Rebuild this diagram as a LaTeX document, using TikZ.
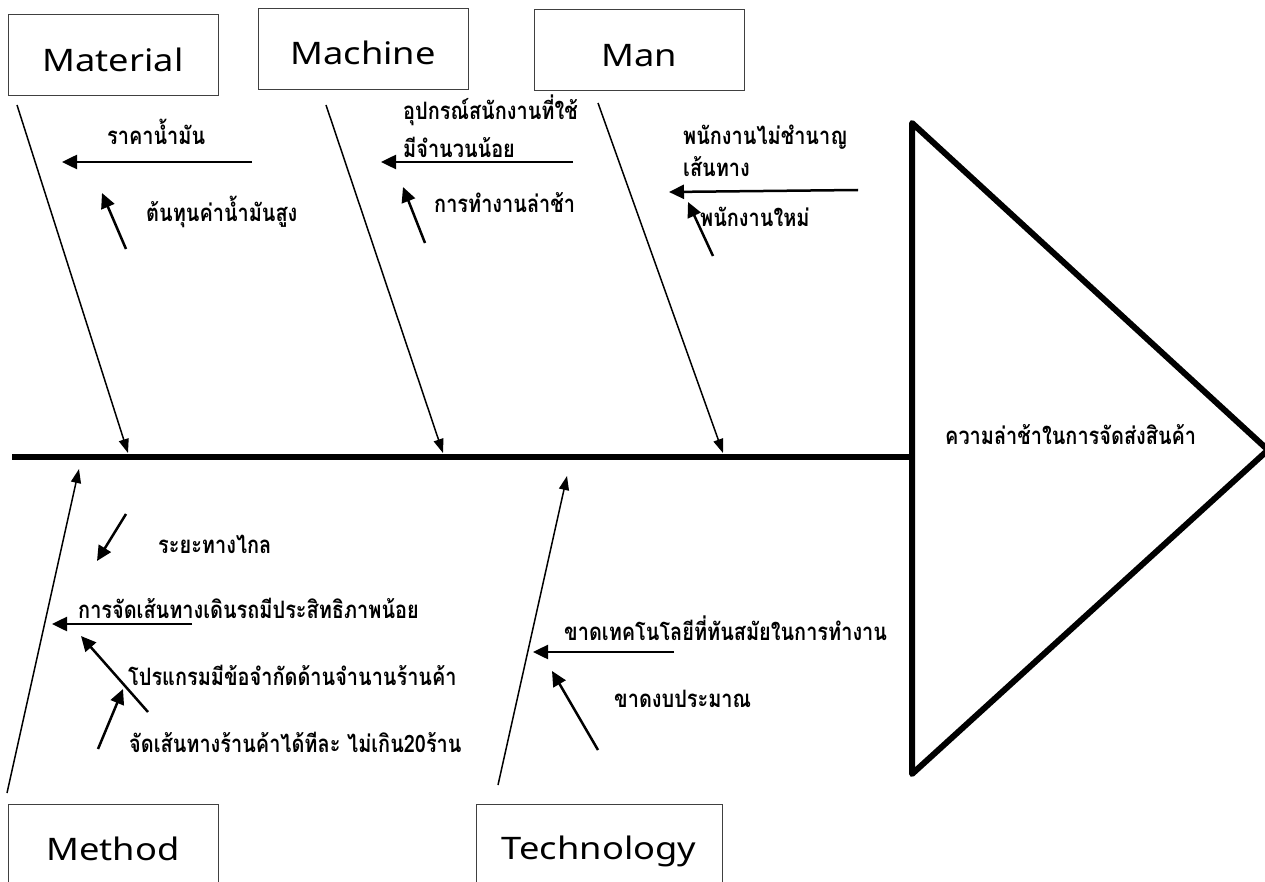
\documentclass[tikz,border=0pt]{standalone}
\usepackage{fontspec}
\setmainfont{Noto Sans}
\newfontfamily\latinwide[FakeStretch=1.17]{Noto Sans}
\newfontfamily\thaifont[Script=Thai, FakeStretch=0.83]{Loma}
\usetikzlibrary{arrows.meta}
\begin{document}
\begin{tikzpicture}[x=1pt,y=-1pt,
  catbox/.style={draw=black!75, line width=1pt, inner sep=0pt, minimum width=210pt, minimum height=81pt},
  cattext/.style={font=\latinwide\fontsize{31}{32}\selectfont, anchor=base, inner sep=0pt},
  bone/.style={line width=1.5pt, -{Triangle[length=14pt,width=10pt]}},
  subarrow/.style={line width=2.5pt, -{Triangle[length=15pt,width=14pt]}},
  lbl/.style={font=\thaifont\bfseries\fontsize{24}{25}\selectfont, anchor=base west, inner sep=0pt},
  efflbl/.style={font=\thaifont\bfseries\fontsize{24}{25}\selectfont, anchor=base west, inner sep=0pt}]
\useasboundingbox (0,0) rectangle (1265,882);
\fill[white] (0,0) rectangle (1265,882);
% category boxes
\node[catbox] (matbox) at (113,55.5) {};
\node[cattext] (mattxt) at (113,72) {Material};
\node[catbox] (macbox) at (363,49.5) {};
\node[cattext] (mactxt) at (363,65) {Machine};
\node[catbox] (manbox) at (639,50.5) {};
\node[cattext] (mantxt) at (639,67) {Man};
\node[catbox, minimum height=100pt] (metbox) at (113,854) {};
\node[cattext] (mettxt) at (113,860) {Method};
\node[catbox, minimum width=246pt, minimum height=100pt] (tecbox) at (599,854) {};
\node[cattext] (tectxt) at (599,859) {Technology};
% spine and head
\coordinate (spL) at (12,457);
\coordinate (spR) at (912,457);
\draw[line width=6pt] (spL) -- (spR);
\coordinate (hTop) at (912,123);
\coordinate (hApex) at (1268,450);
\coordinate (hBot) at (912,774);
\draw[line width=6pt, line join=round, line cap=round] (hTop) -- (hApex) -- (hBot) -- cycle;
\node[efflbl] (effect) at (945,444) {ความล่าช้าในการจัดส่งสินค้า};
% bones
\coordinate (b1s) at (17,105);  \coordinate (b1e) at (128,453);
\coordinate (b2s) at (326,105); \coordinate (b2e) at (443,453);
\coordinate (b3s) at (598,103); \coordinate (b3e) at (723,453);
\coordinate (b4s) at (7,793);   \coordinate (b4e) at (79,469);
\coordinate (b5s) at (498,785); \coordinate (b5e) at (567,476);
\draw[bone] (b1s) -- (b1e);
\draw[bone] (b2s) -- (b2e);
\draw[bone] (b3s) -- (b3e);
\draw[bone] (b4s) -- (b4e);
\draw[bone] (b5s) -- (b5e);
% sub arrows: Material
\coordinate (a1s) at (252,162); \coordinate (a1e) at (62,162);
\coordinate (a2s) at (126,249); \coordinate (a2e) at (102,193);
\draw[subarrow] (a1s) -- (a1e);
\draw[subarrow] (a2s) -- (a2e);
\node[lbl] (l1) at (107,145) {ราคาน้ำมัน};
\node[lbl] (l2) at (146,222) {ต้นทุนค่าน้ำมันสูง};
% Machine
\coordinate (a3s) at (573,162); \coordinate (a3e) at (381,162);
\coordinate (a4s) at (425,243); \coordinate (a4e) at (403,187);
\draw[subarrow] (a3s) -- (a3e);
\draw[subarrow] (a4s) -- (a4e);
\node[lbl] (l3) at (403,120) {อุปกรณ์สนักงานที่ใช้};
\node[lbl] (l4) at (403,158) {มีจำนวนน้อย};
\node[lbl] (l5) at (434,213) {การทำงานล่าช้า};
% Man
\coordinate (a5s) at (858,190); \coordinate (a5e) at (669,192);
\coordinate (a6s) at (713,256); \coordinate (a6e) at (688,202);
\draw[subarrow] (a5s) -- (a5e);
\draw[subarrow] (a6s) -- (a6e);
\node[lbl] (l6) at (683,145) {พนักงานไม่ชำนาญ};
\node[lbl] (l7) at (683,177) {เส้นทาง};
\node[lbl] (l8) at (700,227) {พนักงานใหม่};
% Method
\coordinate (a7s) at (126,514); \coordinate (a7e) at (97,561);
\coordinate (a8s) at (192,624); \coordinate (a8e) at (52,624);
\coordinate (a9s) at (148,712); \coordinate (a9e) at (81,636);
\coordinate (a10s) at (98,749); \coordinate (a10e) at (123,689);
\draw[subarrow] (a7s) -- (a7e);
\draw[subarrow] (a8s) -- (a8e);
\draw[subarrow] (a9s) -- (a9e);
\draw[subarrow] (a10s) -- (a10e);
\node[lbl] (l9) at (158,553) {ระยะทางไกล};
\node[lbl] (l10) at (78,618) {การจัดเส้นทางเดินรถมีประสิทธิภาพน้อย};
\node[lbl] (l11) at (128,685) {โปรแกรมมีข้อจำกัดด้านจำนานร้านค้า};
\node[lbl] (l12) at (129,752) {จัดเส้นทางร้านค้าได้ทีละ ไม่เกิน20ร้าน};
% Technology
\coordinate (a11s) at (674,652); \coordinate (a11e) at (533,652);
\coordinate (a12s) at (598,750); \coordinate (a12e) at (552,671);
\draw[subarrow] (a11s) -- (a11e);
\draw[subarrow] (a12s) -- (a12e);
\node[lbl] (l13) at (564,640) {ขาดเทคโนโลยีที่ทันสมัยในการทำงาน};
\node[lbl] (l14) at (614,707) {ขาดงบประมาณ};
\end{tikzpicture}
\end{document}
